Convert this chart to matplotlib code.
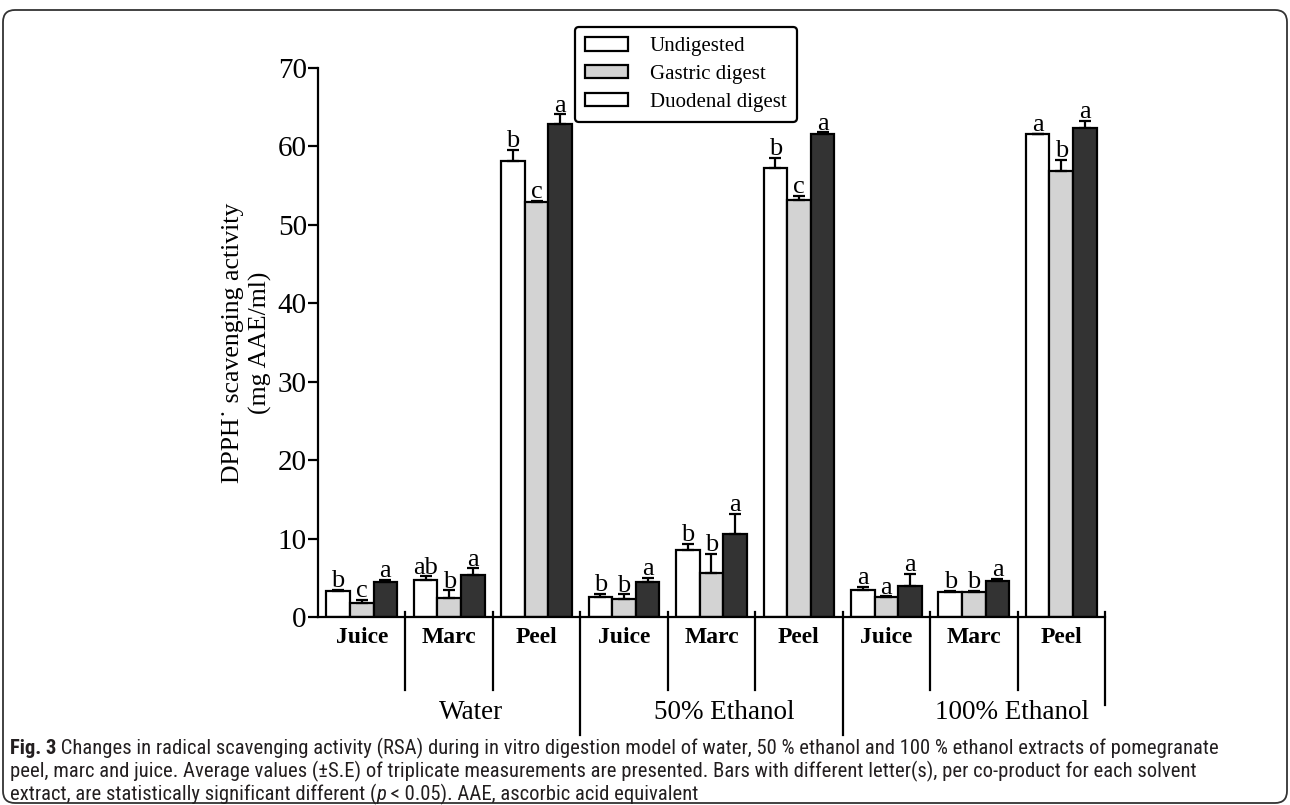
import numpy as np
import matplotlib.pyplot as plt
from matplotlib.patches import Patch, FancyBboxPatch
from matplotlib.transforms import blended_transform_factory

solvents = ['Water', '50% Ethanol', '100% Ethanol']
products = ['Juice', 'Marc', 'Peel']
stages = ['Undigested', 'Gastric digest', 'Duodenal digest']

# order: Water (Juice, Marc, Peel), 50% Ethanol (...), 100% Ethanol (...)
undigested = [3.3, 4.7, 58.2, 2.6, 8.5, 57.3, 3.5, 3.2, 61.6]
gastric = [1.8, 2.4, 52.9, 2.3, 5.6, 53.2, 2.5, 3.2, 56.9]
duodenal = [4.5, 5.3, 62.8, 4.5, 10.6, 61.6, 4.0, 4.6, 62.3]

undigested_se = [0.15, 0.5, 1.4, 0.4, 0.8, 1.2, 0.3, 0.15, 0.0]
gastric_se = [0.4, 1.0, 0.2, 0.6, 2.5, 0.5, 0.15, 0.15, 1.4]
duodenal_se = [0.25, 0.9, 1.3, 0.5, 2.6, 0.2, 1.5, 0.3, 1.0]

undigested_lab = ['b', 'ab', 'b', 'b', 'b', 'b', 'a', 'b', 'a']
gastric_lab = ['c', 'b', 'c', 'b', 'b', 'c', 'a', 'b', 'b']
duodenal_lab = ['a', 'a', 'a', 'a', 'a', 'a', 'a', 'a', 'a']

serif = 'Liberation Serif'
capfont = ['Roboto Condensed', 'Liberation Sans']
lw = 1.6

fig = plt.figure(figsize=(12.9, 8.05), dpi=100)
ax = fig.add_axes([0.2465, 0.2335, 0.6101, 0.682])

x = np.arange(9) + 0.5
w = 0.27
colors = ['white', '#d3d3d3', '#333333']
series = [(undigested, undigested_se, undigested_lab),
          (gastric, gastric_se, gastric_lab),
          (duodenal, duodenal_se, duodenal_lab)]
for k, (vals, se, labs) in enumerate(series):
    pos = x + (k - 1) * w
    ax.bar(pos, vals, w, color=colors[k], edgecolor='black', linewidth=lw, zorder=2)
    ax.errorbar(pos, vals, yerr=[np.zeros(9), se], fmt='none', ecolor='black',
                elinewidth=lw, capsize=4.5, capthick=lw, zorder=3)
    for p, v, e, l in zip(pos, vals, se, labs):
        ax.text(p, v + e + 0.35, l, ha='center', va='baseline', fontsize=19, family=serif)

ax.set_xlim(0, 9)
ax.set_ylim(0, 70)
ax.set_xticks([])
ax.set_yticks(range(0, 71, 10))
for s in ['top', 'right']:
    ax.spines[s].set_visible(False)
for s in ['left', 'bottom']:
    ax.spines[s].set_linewidth(lw)
ax.tick_params(axis='y', length=7, width=lw, labelsize=21, pad=1)
for t in ax.get_yticklabels():
    t.set_family(serif)

# separators and group labels under the axis
trans = blended_transform_factory(ax.transData, ax.transAxes)
for i in range(1, 10):
    low = -0.133
    if i in (3, 6):
        low = -0.215
    if i == 9:
        low = -0.16
    ax.plot([i, i], [0.009, low], transform=trans, clip_on=False, color='black', lw=lw)
for i in range(9):
    ax.text(x[i], -0.037, products[i % 3], transform=trans, ha='center', va='center',
            fontsize=17, fontweight='bold', family=serif)
for j, sx in enumerate([1.75, 4.65, 7.94]):
    ax.text(sx, -0.173, solvents[j], transform=trans, ha='center', va='center',
            fontsize=19.5, family=serif)

ax.set_ylabel('DPPH\u02d9 scavenging activity\n(mg AAE/ml)', fontsize=18.5,
              family=serif, linespacing=1.3)
ax.yaxis.set_label_coords(-0.058, 0.5)

# legend (duodenal patch is white in the original figure)
handles = [Patch(facecolor='white', edgecolor='black', linewidth=lw),
           Patch(facecolor='#d3d3d3', edgecolor='black', linewidth=lw),
           Patch(facecolor='white', edgecolor='black', linewidth=lw)]
leg = fig.legend(handles, stages, loc='upper left', bbox_to_anchor=(575 / 1290, 1 - 27 / 805),
                 prop={'family': serif, 'size': 15}, frameon=True, fancybox=True,
                 edgecolor='black', framealpha=1, handlelength=2.05, handleheight=0.6,
                 handletextpad=1.05, borderpad=0.5, labelspacing=0.42, borderaxespad=0)
leg.get_frame().set_linewidth(lw)

# outer frame
frame = FancyBboxPatch((3, 2), 1284, 793, boxstyle='round,pad=0,rounding_size=12',
                       transform=None, fill=False, edgecolor='#333333', lw=1.3)
fig.add_artist(frame)

# caption
renderer = fig.canvas.get_renderer()
cap_color = '#231f20'


def caption_line(parts, y, size):
    xx = 10 / 1290
    made = []
    for txt, kw in parts:
        t = fig.text(xx, y, txt, va='baseline', fontsize=size, color=cap_color,
                     family=capfont, **kw)
        made.append(t)
        xx = t.get_window_extent(renderer=renderer).x1 / fig.bbox.width
    return xx, made


line1 = [('Fig. 3', {'fontweight': 'bold'}),
         (' Changes in radical scavenging activity (RSA) during in vitro digestion model '
          'of water, 50 % ethanol and 100 % ethanol extracts of pomegranate', {})]
line2 = [('peel, marc and juice. Average values (\u00b1S.E) of triplicate measurements are '
          'presented. Bars with different letter(s), per co-product for each solvent', {})]
line3 = [('extract, are statistically significant different (', {}),
         ('p', {'style': 'italic'}),
         (' < 0.05). AAE, ascorbic acid equivalent', {})]

# size the caption so the first line nearly fills the frame width
end, tmp = caption_line(line1, 0.5, 14)
for t in tmp:
    t.remove()
cap_size = 0.96 * 14 * (1276 - 10) / (end * 1290 - 10)

caption_line(line1, 1 - 754 / 805, cap_size)
caption_line(line2, 1 - 777 / 805, cap_size)
caption_line(line3, 1 - 800 / 805, cap_size)

fig.savefig('out.png', dpi=100)
